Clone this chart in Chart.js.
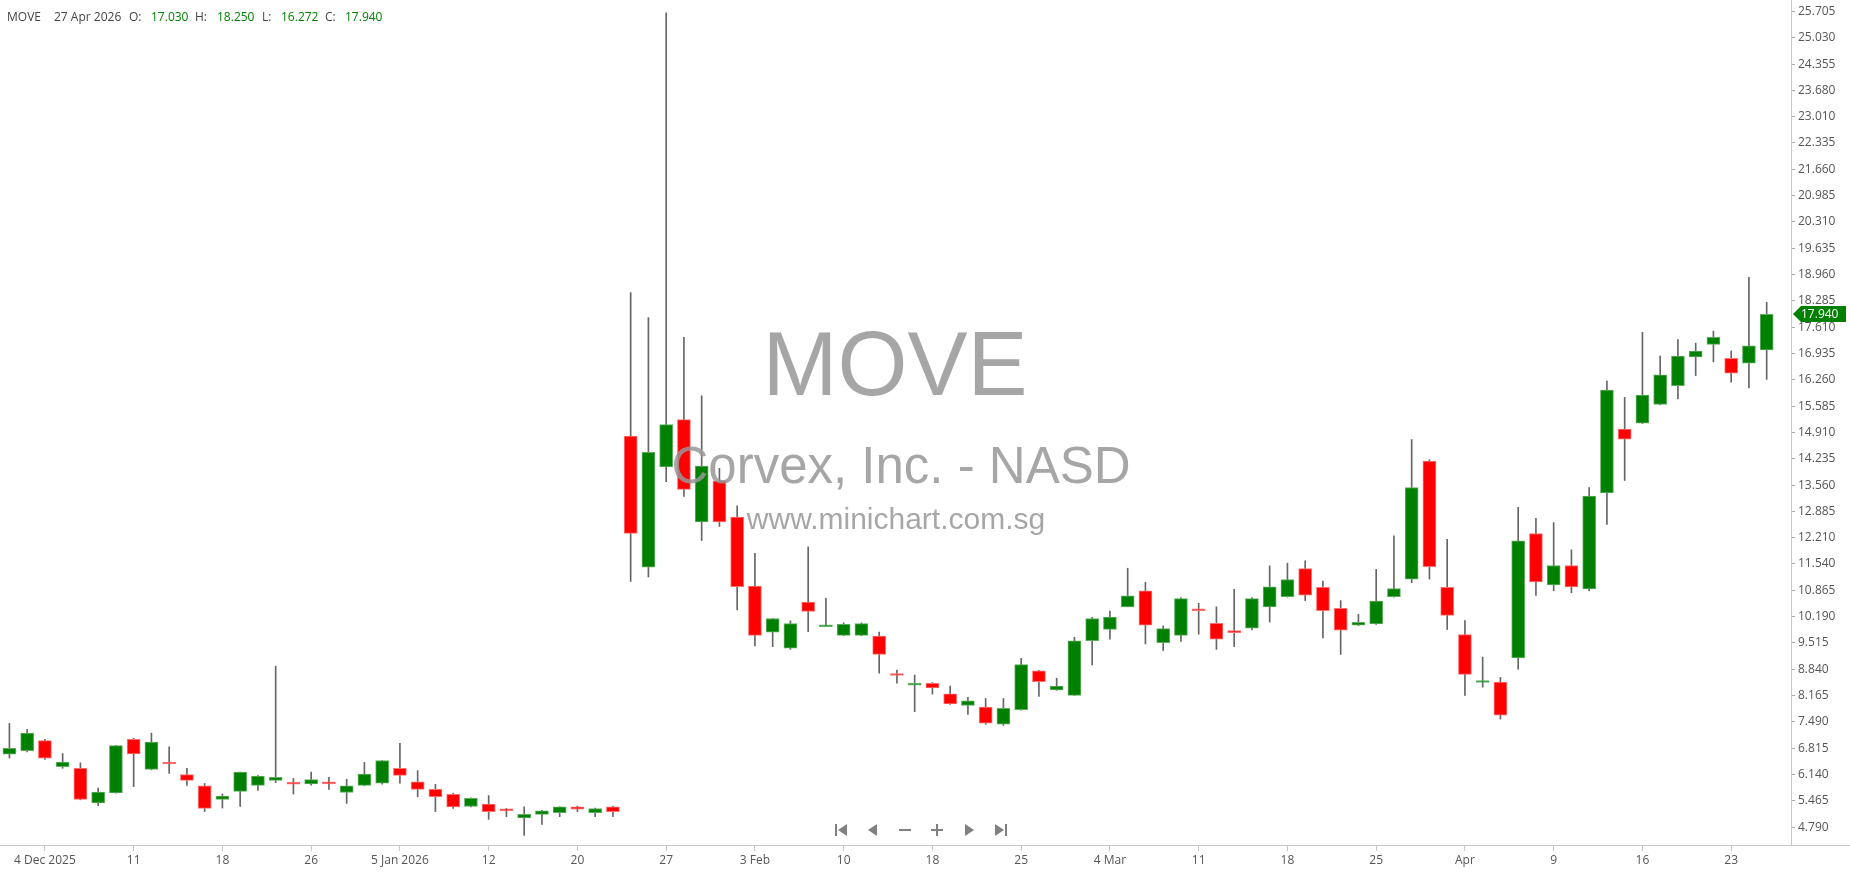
<!DOCTYPE html>
<html lang="en">
<head>
<meta charset="UTF-8" />
<title>MOVE</title>
<script src="https://cdn.jsdelivr.net/npm/chart.js"></script>
<style>
  html, body { margin: 0; padding: 0; background: #fff; }
  canvas { display: block; }
</style>
</head>
<body>
<canvas id="chart" width="1850" height="874"></canvas>
<script>
// ---- data ----
const symbol = "MOVE";
const company = "Corvex, Inc. - NASD";
const site = "www.minichart.com.sg";
const lastDateText = "27 Apr 2026";

const dates = [
  "2025-12-02","2025-12-03","2025-12-04","2025-12-05","2025-12-08","2025-12-09","2025-12-10","2025-12-11","2025-12-12",
  "2025-12-15","2025-12-16","2025-12-17","2025-12-18","2025-12-19","2025-12-22","2025-12-23","2025-12-24","2025-12-26",
  "2025-12-29","2025-12-30","2025-12-31","2026-01-02","2026-01-05","2026-01-06","2026-01-07","2026-01-08","2026-01-09",
  "2026-01-12","2026-01-13","2026-01-14","2026-01-15","2026-01-16","2026-01-20","2026-01-21","2026-01-22","2026-01-23",
  "2026-01-26","2026-01-27","2026-01-28","2026-01-29","2026-01-30","2026-02-02","2026-02-03","2026-02-04","2026-02-05",
  "2026-02-06","2026-02-09","2026-02-10","2026-02-11","2026-02-12","2026-02-13","2026-02-17","2026-02-18","2026-02-19",
  "2026-02-20","2026-02-23","2026-02-24","2026-02-25","2026-02-26","2026-02-27","2026-03-02","2026-03-03","2026-03-04",
  "2026-03-05","2026-03-06","2026-03-09","2026-03-10","2026-03-11","2026-03-12","2026-03-13","2026-03-16","2026-03-17",
  "2026-03-18","2026-03-19","2026-03-20","2026-03-23","2026-03-24","2026-03-25","2026-03-26","2026-03-27","2026-03-30",
  "2026-03-31","2026-04-01","2026-04-02","2026-04-06","2026-04-07","2026-04-08","2026-04-09","2026-04-10","2026-04-13",
  "2026-04-14","2026-04-15","2026-04-16","2026-04-17","2026-04-20","2026-04-21","2026-04-22","2026-04-23","2026-04-24",
  "2026-04-27"
];
const open = [
  6.66, 6.75, 7.01, 6.34, 6.30, 5.41, 5.67, 7.04, 6.27,
  6.46, 6.14, 5.85, 5.50, 5.71, 5.86, 5.99, 5.91, 5.90,
  5.92, 5.68, 5.86, 5.92, 6.30, 5.95, 5.76, 5.63, 5.32,
  5.38, 5.25, 5.03, 5.12, 5.16, 5.31, 5.16, 5.31, 14.82,
  11.46, 14.03, 15.24, 12.62, 13.67, 12.74, 10.97, 9.79, 9.38,
  10.56, 9.93, 9.71, 9.71, 9.69, 8.70, 8.43, 8.48, 8.21,
  7.91, 7.87, 7.43, 7.80, 8.80, 8.31, 8.17, 9.57, 9.86,
  10.44, 10.85, 9.52, 9.71, 10.36, 10.02, 9.81, 9.89, 10.44,
  10.70, 11.42, 10.94, 10.40, 9.97, 10.00, 10.70, 11.15, 14.18,
  10.94, 9.73, 8.50, 8.51, 9.13, 12.32, 11.00, 11.50, 10.90,
  13.36, 15.00, 15.15, 15.63, 16.11, 16.85, 17.17, 16.81, 16.69,
  17.03
];
const high = [
  7.45, 7.30, 7.04, 6.68, 6.44, 5.79, 6.89, 7.07, 7.20,
  6.85, 6.30, 5.91, 5.64, 6.20, 6.11, 8.92, 6.04, 6.20,
  6.07, 6.02, 6.45, 6.50, 6.94, 6.24, 5.89, 5.66, 5.54,
  5.60, 5.27, 5.31, 5.22, 5.31, 5.33, 5.28, 5.33, 18.50,
  17.86, 25.67, 17.35, 15.85, 13.99, 13.03, 11.81, 10.14, 10.08,
  11.98, 10.66, 10.03, 10.03, 9.79, 8.82, 8.69, 8.50, 8.41,
  8.12, 8.09, 8.09, 9.12, 8.81, 8.61, 9.66, 10.17, 10.33,
  11.43, 11.07, 9.95, 10.68, 10.53, 10.44, 10.89, 10.68, 11.49,
  11.56, 11.62, 11.10, 10.60, 10.25, 11.40, 12.26, 14.73, 14.21,
  12.17, 10.09, 9.15, 8.63, 12.99, 12.71, 12.60, 11.90, 13.50,
  16.23, 15.81, 17.48, 16.87, 17.29, 17.20, 17.51, 17.00, 18.89,
  18.25
];
const low = [
  6.56, 6.72, 6.53, 6.30, 5.49, 5.34, 5.66, 5.83, 6.26,
  6.17, 5.86, 5.19, 5.28, 5.32, 5.73, 5.93, 5.64, 5.87,
  5.76, 5.40, 5.85, 5.89, 5.92, 5.57, 5.19, 5.27, 5.31,
  4.99, 5.06, 4.58, 4.86, 5.06, 5.19, 5.06, 5.06, 11.09,
  11.21, 13.65, 13.27, 12.14, 12.50, 10.36, 9.44, 9.42, 9.35,
  9.80, 9.93, 9.70, 9.70, 8.74, 8.48, 7.75, 8.20, 7.94,
  7.68, 7.43, 7.40, 7.79, 8.14, 8.30, 8.17, 8.95, 9.61,
  10.44, 9.49, 9.32, 9.55, 9.74, 9.35, 9.42, 9.85, 10.05,
  10.69, 10.60, 9.64, 9.22, 9.96, 9.99, 10.69, 11.06, 11.15,
  9.86, 8.17, 8.38, 7.56, 8.84, 10.73, 10.85, 10.80, 10.85,
  12.55, 13.68, 15.14, 15.62, 15.77, 16.37, 16.72, 16.20, 16.05,
  16.272
];
const close = [
  6.81, 7.20, 6.56, 6.46, 5.50, 5.69, 6.88, 6.67, 6.97,
  6.41, 5.99, 5.27, 5.59, 6.20, 6.10, 6.07, 5.89, 6.01,
  5.90, 5.85, 6.15, 6.50, 6.12, 5.76, 5.57, 5.31, 5.53,
  5.19, 5.21, 5.12, 5.21, 5.31, 5.25, 5.27, 5.19, 12.32,
  14.40, 15.11, 13.45, 14.05, 12.62, 10.96, 9.71, 10.14, 10.01,
  10.32, 9.95, 9.99, 10.01, 9.22, 8.68, 8.44, 8.36, 7.95,
  8.03, 7.46, 7.84, 8.96, 8.52, 8.41, 9.57, 10.14, 10.18,
  10.72, 9.97, 9.88, 10.65, 10.34, 9.61, 9.78, 10.65, 10.95,
  11.14, 10.74, 10.34, 9.84, 10.04, 10.59, 10.91, 13.50, 11.47,
  10.22, 8.71, 8.51, 7.66, 12.13, 11.08, 11.50, 10.95, 13.28,
  16.00, 14.74, 15.87, 16.39, 16.87, 17.00, 17.35, 16.43, 17.13,
  17.94
];

const xTickDates = [
  "2025-12-04","2025-12-11","2025-12-18","2025-12-26","2026-01-05","2026-01-12","2026-01-20",
  "2026-01-27","2026-02-03","2026-02-10","2026-02-18","2026-02-25","2026-03-04","2026-03-11",
  "2026-03-18","2026-03-25","2026-04-01","2026-04-09","2026-04-16","2026-04-23"
];
const xTickText = [
  "4 Dec 2025","11","18","26","5 Jan 2026","12","20",
  "27","3 Feb","10","18","25","4 Mar","11",
  "18","25","Apr","9","16","23"
];
const yTickText = [
  "4.790","5.465","6.140","6.815","7.490","8.165","8.840","9.515","10.190","10.865","11.540",
  "12.210","12.885","13.560","14.235","14.910","15.585","16.260","16.935","17.610","18.285",
  "18.960","19.635","20.310","20.985","21.660","22.335","23.010","23.680","24.355","25.030","25.705"
];

// ---- colours / fonts ----
const UP = "#008000";
const DOWN = "#ff0000";
const FONT = '"Open Sans", "Noto Sans", sans-serif';

const bodies = dates.map((d, i) => ({ x: i, y: [open[i], close[i]] }));
const wicks = dates.map((d, i) => ({ x: i, y: [low[i], high[i]] }));
const bodyColors = dates.map((d, i) => close[i] >= open[i] ? UP : DOWN);
const bodyBorders = dates.map((d, i) => close[i] >= open[i] ? "#5fae5f" : "#ff7070");

const decor = {
  id: "decor",
  beforeDraw(chart) {
    const c = chart.ctx;
    c.save();
    c.fillStyle = "#fff";
    c.fillRect(0, 0, chart.width, chart.height);
    c.restore();
  },
  afterDatasetsDraw(chart) {
    // watermark
    const c = chart.ctx;
    c.save();
    c.fillStyle = "rgba(150,150,150,0.85)";
    c.textAlign = "center";
    c.textBaseline = "alphabetic";
    c.font = '90px "Liberation Sans", Arial, sans-serif';
    c.fillText(symbol, 895, 395);
    c.font = '51px "Liberation Sans", Arial, sans-serif';
    c.fillText(company, 901, 483);
    c.font = '30px "Liberation Sans", Arial, sans-serif';
    c.fillText(site, 896, 529);
    c.restore();
  },
  afterDraw(chart) {
    const c = chart.ctx;
    const ys = chart.scales.y;
    const area = chart.chartArea;
    const n = close.length - 1;
    c.save();

    // bottom axis line runs the full width
    c.strokeStyle = "#c8c8c8";
    c.lineWidth = 1;
    c.beginPath();
    c.moveTo(0, area.bottom + 0.5);
    c.lineTo(chart.width, area.bottom + 0.5);
    c.stroke();

    // header
    c.font = "12px " + FONT;
    c.textBaseline = "middle";
    c.textAlign = "left";
    const parts = [
      [symbol, "#444", 7], [lastDateText, "#444", 54],
      ["O:", "#444", 129], [open[n].toFixed(3), UP, 151],
      ["H:", "#444", 195], [high[n].toFixed(3), UP, 217],
      ["L:", "#444", 262], [low[n].toFixed(3), UP, 281],
      ["C:", "#444", 325], [close[n].toFixed(3), UP, 345]
    ];
    parts.forEach(p => { c.fillStyle = p[1]; c.fillText(p[0], p[2], 18); });

    // last price tag
    const py = Math.round(ys.getPixelForValue(close[n]));
    const x0 = area.right + 2;
    c.fillStyle = close[n] >= open[n] ? UP : DOWN;
    c.beginPath();
    c.moveTo(x0, py);
    c.lineTo(x0 + 8, py - 8);
    c.lineTo(chart.width - 4, py - 8);
    c.lineTo(chart.width - 4, py + 8);
    c.lineTo(x0 + 8, py + 8);
    c.closePath();
    c.fill();
    c.fillStyle = "#fff";
    c.fillText(close[n].toFixed(3), x0 + 8, py + 1);

    // navigation buttons
    c.fillStyle = "#808080";
    const cy = 830;
    c.fillRect(835, cy - 6, 2, 12);
    c.beginPath(); c.moveTo(838, cy); c.lineTo(847, cy - 6); c.lineTo(847, cy + 6); c.closePath(); c.fill();
    c.beginPath(); c.moveTo(868, cy); c.lineTo(877, cy - 6); c.lineTo(877, cy + 6); c.closePath(); c.fill();
    c.fillRect(899, cy - 1, 12, 2);
    c.fillRect(931, cy - 1, 12, 2);
    c.fillRect(936, cy - 6, 2, 12);
    c.beginPath(); c.moveTo(974, cy); c.lineTo(965, cy - 6); c.lineTo(965, cy + 6); c.closePath(); c.fill();
    c.beginPath(); c.moveTo(1004, cy); c.lineTo(995, cy - 6); c.lineTo(995, cy + 6); c.closePath(); c.fill();
    c.fillRect(1005, cy - 6, 2, 12);

    c.restore();
  }
};

new Chart(document.getElementById("chart"), {
  type: "bar",
  data: {
    datasets: [
      {
        label: "body",
        data: bodies,
        backgroundColor: bodyColors,
        borderColor: bodyBorders,
        borderWidth: 1,
        borderSkipped: false,
        barThickness: 13,
        minBarLength: 2,
        grouped: false,
        order: 1
      },
      {
        label: "wick",
        data: wicks,
        backgroundColor: "#666",
        borderWidth: 0,
        barThickness: 1,
        grouped: false,
        order: 2
      }
    ]
  },
  options: {
    responsive: false,
    devicePixelRatio: 1,
    animation: false,
    layout: { padding: 0 },
    plugins: { legend: { display: false }, tooltip: { enabled: false } },
    scales: {
      x: {
        type: "linear",
        offset: false,
        min: -0.53,
        max: 100.37,
        afterBuildTicks: s => { s.ticks = xTickDates.map(d => ({ value: dates.indexOf(d) })); },
        afterFit: s => { s.height = 29; s.paddingLeft = 0; s.paddingRight = 0; },
        grid: { drawOnChartArea: false, tickLength: 6, color: "#c8c8c8", offset: false },
        border: { display: true, color: "#c8c8c8" },
        ticks: {
          autoSkip: false,
          maxRotation: 0,
          padding: 2,
          color: "#555",
          font: { family: FONT, size: 12 },
          callback: (v, i) => xTickText[i]
        }
      },
      y: {
        position: "right",
        min: 4.333,
        max: 26.0,
        afterBuildTicks: s => { s.ticks = yTickText.map(t => ({ value: parseFloat(t) })); },
        afterFit: s => { s.width = 59; s.paddingTop = 0; s.paddingBottom = 0; },
        grid: { drawOnChartArea: false, tickLength: 4, color: "#aaa" },
        border: { display: true, color: "#c8c8c8" },
        ticks: {
          autoSkip: false,
          padding: 3,
          color: "#555",
          font: { family: FONT, size: 12 },
          callback: (v, i) => yTickText[i]
        }
      }
    }
  },
  plugins: [decor]
});
</script>
</body>
</html>
